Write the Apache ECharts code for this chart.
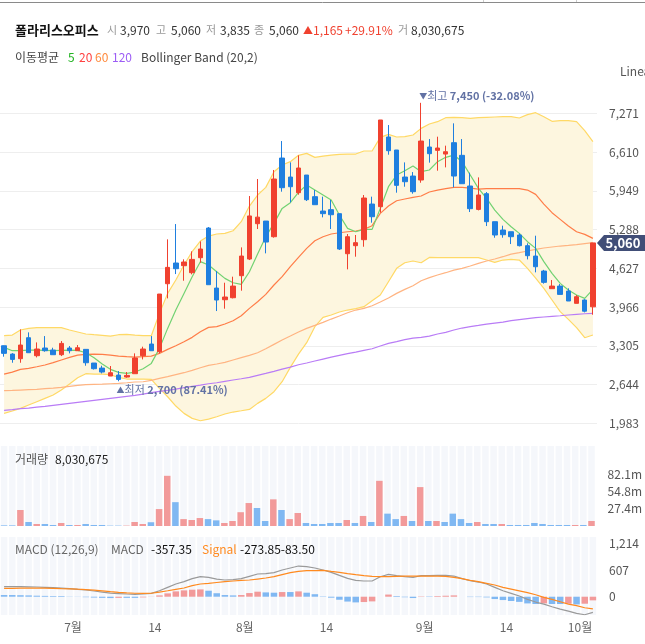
<!DOCTYPE html>
<html>
<head>
<meta charset="utf-8">
<script src="https://cdn.jsdelivr.net/npm/echarts@6/dist/echarts.min.js"></script>
<style>html,body{margin:0;height:100%;background:#fff}#main{width:645px;height:644px}</style>
</head>
<body>
<div id="main"></div>
<script>
// ---- data ----
var opens  = [3306,3164,3085,3443,3136,3267,3233,3153,3267,3221, 3244,3011,2925,2789,2806,2772,2829,3136,3335,3204, 4364,4717,4671,4552,4808,5314,4290,4091,4125,4501, 4785,5388,5433,5166,6508,6184,5917,6218,5849,5604, 5627,5559,4876,5013,5115,5723,5678,6867,6645,6184, 6201,6133,6696,6639,6576,6770,6554,6031,5632,5900, 5422,5280,5251,5195,5013,4836,4580,4279,4324,4239, 4029,4086,3970];
var highs  = [3310,3180,3585,3534,3363,3471,3272,3386,3301,3318, 3244,3011,2965,2960,2874,2857,3176,3290,3471,4188, 5121,5382,4780,4916,5086,5331,4580,4381,4484,4984, 5860,6150,5433,6304,6798,6434,6554,6218,5962,5849, 5792,5559,5212,5195,5877,5849,7157,7071,6645,6434, 6269,7450,6832,6872,6719,7100,6832,6258,6178,5928, 5422,5354,5251,5223,5053,5183,4600,4427,4358,4285, 4171,4100,5060];
var lows   = [3119,3016,3016,3187,3107,3204,3153,3130,3176,3221, 2965,2900,2834,2789,2700,2760,2829,3073,3221,3176, 4114,4529,4415,4524,4722,4347,3898,3938,4114,4245, 4768,5297,4882,5150,5934,5752,5883,5775,5712,5496, 5297,4939,4609,4825,4995,5405,5576,6565,5917,6019, 5900,6087,6429,6292,6349,6008,6070,5587,5615,5348, 5149,5149,5041,5000,4779,4558,4365,4279,4182,4069, 4029,3875,3835];
var closes = [3176,3073,3318,3187,3250,3221,3153,3346,3221,3272, 3016,2914,2857,2846,2732,2800,3096,3250,3221,4188, 4643,4620,4734,4779,4956,4347,4086,4137,4324,4836, 5520,5500,5075,6150,6002,6019,6338,5797,5712,5559, 5541,4956,5166,5064,5826,5507,7157,6633,6042,6104, 5934,6798,6582,6679,6616,6201,6070,5644,5877,5422, 5195,5200,5166,5013,4842,4654,4387,4324,4182,4069, 4142,3895,5060];
// volume, millions of shares
var volumes = [1.0,1.0,25.5,6.4,3.2,3.2,1.6,4.8,1.6,1.6, 3.2,1.6,1.6,0.6,0.6,0.6,6.4,3.2,6.0,27.0, 80.0,38.0,11.0,9.6,12.7,11.0,9.0,4.8,8.0,22.0, 36.6,28.7,8.0,42.5,25.5,11.0,20.7,4.8,3.2,3.2, 4.8,4.8,9.6,4.8,16.0,6.4,72.0,19.7,11.0,16.0, 8.0,62.0,8.0,8.0,6.4,19.7,11.0,4.8,6.4,3.2, 3.2,3.2,1.6,1.6,1.6,4.8,3.2,1.6,1.6,1.6, 1.6,1.6,8.03];
var ma5   = [3278,3221,3221,3232,3232,3227,3221,3227,3232,3227, 3187,3102,2994,2903,2851,2834,2857,2914,3005,3261, 3602,3915,4199,4484,4740,4683,4569,4455,4381,4353, 4569,4870,5166,5394,5649,5746,5922,6048,5962,5877, 5792,5536,5308,5251,5291,5291,5649,6019,6218,6292, 6372,6275,6304,6446,6520,6559,6446,6218,5991,5820, 5621,5462,5337,5223,5081,4967,4740,4541,4370,4256, 4171,4114,4268];
var ma20  = [2823,2857,2903,2920,2948,2977,3017,3062,3107,3147, 3159,3164,3159,3147,3130,3119,3113,3119,3130,3176, 3244,3306,3375,3449,3545,3619,3631,3676,3733,3818, 3943,4057,4182,4342,4484,4654,4814,4967,5098,5166, 5212,5234,5251,5263,5291,5354,5564,5689,5780,5809, 5837,5860,5928,5962,5985,6008,6008,5996,5979,5985, 5985,5985,5985,5985,5962,5888,5723,5576,5462,5348, 5251,5206,5138];
var ma60  = [2539,2544,2550,2556,2562,2573,2584,2596,2613,2630, 2641,2647,2652,2658,2664,2675,2687,2692,2715,2749, 2778,2812,2846,2886,2931,2971,2994,3022,3062,3102, 3142,3187,3255,3329,3403,3471,3540,3602,3653,3705, 3761,3813,3869,3915,3943,3989,4051,4120,4199,4268, 4330,4415,4467,4512,4552,4597,4626,4666,4711,4751, 4785,4825,4870,4893,4922,4950,4973,4990,5007,5018, 5030,5047,5064];
var ma120 = [2203,2215,2232,2243,2260,2271,2289,2306,2323,2340, 2357,2374,2391,2408,2425,2442,2459,2482,2505,2527, 2544,2567,2590,2613,2635,2658,2675,2698,2721,2743, 2766,2800,2834,2869,2908,2942,2982,3011,3045,3079, 3113,3142,3170,3198,3227,3255,3301,3346,3375,3409, 3437,3450,3471,3506,3534,3574,3608,3631,3653,3676, 3693,3710,3733,3750,3767,3784,3796,3807,3818,3830, 3841,3852,3858];
var bbUpper = [3477,3488,3574,3602,3614,3614,3614,3614,3574,3540, 3506,3494,3483,3471,3494,3500,3488,3477,3477,3858, 4199,4427,4683,4911,5092,5177,5212,5223,5268,5422, 5689,5877,6008,6275,6389,6446,6554,6588,6520,6542, 6559,6571,6576,6576,6628,6628,6861,6912,6867,6872, 6901,7014,7088,7128,7196,7202,7196,7185,7196,7202, 7208,7213,7213,7191,7248,7282,7213,7134,7145,7145, 7128,6975,6787];
var bbLower = [2152,2192,2237,2294,2351,2408,2465,2550,2653,2760, 2829,2823,2823,2812,2766,2738,2738,2738,2732,2579, 2436,2277,2152,2067,2027,2055,2095,2141,2175,2197, 2220,2323,2408,2522,2692,2937,3164,3358,3631,3790, 3830,3881,3915,3938,3972,4074,4171,4398,4626,4722, 4751,4722,4813,4808,4808,4808,4808,4808,4808,4768, 4728,4768,4779,4768,4626,4461,4285,4086,3887,3756, 3614,3443,3489];
var macdLine = [227,227,227,223,220,212,204,197,182,167, 152,129,106,83,72,61,53,61,76,136, 212,288,341,409,454,439,401,379,386,409, 462,515,522,545,606,651,696,681,651,606, 553,484,416,371,356,356,454,507,477,454, 439,477,477,484,484,469,409,363,333,288, 212,136,76,15,-61,-121,-167,-227,-280,-326, -379,-409,-357];
var signalLine = [189,189,193,193,197,193,189,182,178,170, 163,148,132,114,98,87,79,76,79,106, 136,167,197,250,288,303,322,341,356,371, 379,401,424,454,500,545,575,590,594,598, 575,553,526,500,477,462,454,458,462,466, 469,469,469,469,462,439,409,371,341,303, 265,212,174,132,91,45,-15,-61,-114,-167, -204,-250,-274];
var macdHist = [38,38,34,30,23,19,15,15,4,-3, -11,-19,-26,-31,-26,-26,-26,-15,-3,30, 76,121,144,159,166,136,79,38,30,38, 83,114,98,91,106,106,121,91,57,8, -22,-69,-110,-129,-121,-106,0,49,15,-12, -30,8,8,15,22,30,0,-8,-8,-15, -53,-76,-98,-117,-152,-166,-152,-166,-166,-159, -175,-159,-83];

var priceTicks = [1983,2644,3305,3966,4627,5288,5949,6610,7271];
var volTicks = [27.4,54.8,82.1];
var macdTicks = [0,607,1214];
var monthLabels = {8:'7월',18:'14',29:'8월',39:'14',51:'9월',61:'14',70:'10월'};
var days = opens.map(function (o, i) { return 'd' + i; });

// ---- styles ----
var RED = '#f0412f', BLUE = '#1f7fdf';
var VRED = '#f29a9a', VBLUE = '#80b8f2';
var FONT = '"Noto Sans CJK KR", "Noto Sans", sans-serif';
var fmt = function (v) { return Math.round(v).toLocaleString('en-US'); };

var chart = echarts.init(document.getElementById('main'));

var grids = [
  {left: 0, width: 597, top: 85, height: 355},
  {left: 0, width: 597, top: 446, height: 80},
  {left: 0, width: 597, top: 537, height: 78}
];

function lineSeries(data, color, extra) {
  var s = {type: 'line', xAxisIndex: 0, yAxisIndex: 0, data: data, symbol: 'none',
    silent: true, lineStyle: {width: 1.2, color: color}, z: 3};
  for (var k in extra) s[k] = extra[k];
  return s;
}

var option = {
  animation: false,
  grid: grids,
  xAxis: [0, 1, 2].map(function (g) {
    return {
      type: 'category', gridIndex: g, data: days, boundaryGap: true,
      axisLine: {show: false}, axisTick: {show: false},
      axisLabel: g < 2 ? {show: false} : {
        interval: 0, margin: 6, color: '#666', fontSize: 12, fontFamily: FONT,
        formatter: function (v, i) { return monthLabels[i] ? '{s|' + monthLabels[i] + '}' : ''; },
        rich: {s: {padding: [0, 0, 0, 7], color: '#666', fontSize: 12, fontFamily: FONT}}
      },
      splitLine: {show: false}
    };
  }),
  yAxis: [
    {gridIndex: 0, position: 'right', min: 1698, max: 7754, scale: true,
      axisLine: {show: false}, axisTick: {show: false, customValues: priceTicks},
      axisLabel: {customValues: priceTicks, formatter: fmt, color: '#555', fontSize: 12, fontFamily: FONT, margin: 12},
      splitLine: {show: true, lineStyle: {color: '#eeeeee'}}},
    {gridIndex: 1, position: 'right', min: 0, max: 127.5,
      axisLine: {show: false}, axisTick: {show: false, customValues: volTicks},
      axisLabel: {customValues: volTicks, formatter: function (v) { return v.toFixed(1) + 'm'; },
        color: '#555', fontSize: 12, fontFamily: FONT, margin: 12},
      splitLine: {show: false}},
    {gridIndex: 2, position: 'right', min: -415, max: 1355,
      axisLine: {show: false}, axisTick: {show: false, customValues: macdTicks},
      axisLabel: {customValues: macdTicks, formatter: fmt, color: '#555', fontSize: 12, fontFamily: FONT, margin: 12},
      splitLine: {show: false}}
  ],
  series: [
    // bollinger band fill
    lineSeries(bbLower, '#ffd966', {stack: 'bb', z: 1}),
    lineSeries(bbUpper.map(function (u, i) { return u - bbLower[i]; }), 'transparent',
      {stack: 'bb', z: 1, lineStyle: {width: 0}, areaStyle: {color: '#fdf6df', opacity: 1}}),
    lineSeries(bbUpper, '#ffd966', {z: 2}),
    lineSeries(ma120, '#b97cf6'),
    lineSeries(ma60, '#ffb482'),
    lineSeries(ma20, '#ff7d48'),
    lineSeries(ma5, '#72d272'),
    {
      type: 'candlestick', xAxisIndex: 0, yAxisIndex: 0, barWidth: 5, z: 5,
      data: opens.map(function (o, i) { return [o, closes[i], lows[i], highs[i]]; }),
      itemStyle: {color: RED, color0: BLUE, borderColor: RED, borderColor0: BLUE, borderWidth: 1}
    },
    {
      type: 'bar', xAxisIndex: 1, yAxisIndex: 1, barWidth: 6.5, silent: true,
      showBackground: true, backgroundStyle: {color: '#f5f7fb'},
      data: volumes.map(function (v, i) {
        var prev = i > 0 ? closes[i - 1] : opens[0];
        return {value: v, itemStyle: {color: closes[i] > prev ? VRED : VBLUE}};
      })
    },
    {
      type: 'bar', xAxisIndex: 2, yAxisIndex: 2, barWidth: 6.5, silent: true,
      showBackground: true, backgroundStyle: {color: '#f5f7fb'},
      data: macdHist.map(function (v, i) {
        var up = i > 0 ? v > macdHist[i - 1] : false;
        return {value: v, itemStyle: {color: up ? VRED : VBLUE}};
      })
    },
    {type: 'line', xAxisIndex: 2, yAxisIndex: 2, data: macdLine, symbol: 'none', silent: true,
      lineStyle: {width: 1.2, color: '#9a9a9a'}},
    {type: 'line', xAxisIndex: 2, yAxisIndex: 2, data: signalLine, symbol: 'none', silent: true,
      lineStyle: {width: 1.2, color: '#ff8a1f'}}
  ]
};
chart.setOption(option);

// ---- text and annotations ----
function txt(x, y, text, fill, size, weight) {
  return {type: 'text', x: x, y: y, silent: true, z: 100,
    style: {text: text, fill: fill, font: (weight || 'normal') + ' ' + (size || 12) + 'px ' + FONT, verticalAlign: 'middle'}};
}
var G = '#999', D = '#333';
var graphics = [
  {type: 'line', shape: {x1: 0, y1: 2.5, x2: 645, y2: 2.5}, style: {stroke: '#8a8a8a', lineWidth: 1}, silent: true},
  {type: 'line', shape: {x1: 483.5, y1: 0, x2: 483.5, y2: 2}, style: {stroke: '#ccc', lineWidth: 1}, silent: true},
  {type: 'line', shape: {x1: 576.5, y1: 0, x2: 576.5, y2: 2}, style: {stroke: '#ccc', lineWidth: 1}, silent: true},
  txt(15, 30, '폴라리스오피스', '#111', 13, 'bold'),
  txt(107, 30, '시', G, 11), txt(120, 30, '3,970', D),
  txt(156, 30, '고', G, 11), txt(171, 30, '5,060', D),
  txt(206, 30, '저', G, 11), txt(220, 30, '3,835', D),
  txt(254, 30, '종', G, 11), txt(269, 30, '5,060', D),
  txt(303, 30, '▲', RED, 10), txt(313, 30, '1,165', RED), txt(345, 30, '+29.91%', RED),
  txt(398, 30, '거', G, 11), txt(411, 30, '8,030,675', D),
  txt(15, 57, '이동평균', '#444'),
  txt(68, 57, '5', '#22b322'), txt(79, 57, '20', '#ff4040'), txt(95, 57, '60', '#ff8a3d'), txt(112, 57, '120', '#9c5cf5'),
  txt(141, 57, 'Bollinger Band (20,2)', '#444'),
  txt(620, 71, 'Linear', '#555'),
  txt(15, 459, '거래량', '#555'), txt(55, 459, '8,030,675', '#222'),
  txt(15, 549, 'MACD (12,26,9)', '#666'), txt(111, 549, 'MACD', '#666'), txt(151, 549, '-357.35', '#111'),
  txt(202, 549, 'Signal', '#ff8a1f'), txt(240, 549, '-273.85-83.50', '#111')
];

var hiIdx = highs.indexOf(Math.max.apply(null, highs));
var loIdx = lows.indexOf(Math.min.apply(null, lows));
var hiPt = chart.convertToPixel({xAxisIndex: 0, yAxisIndex: 0}, [hiIdx, highs[hiIdx]]);
var loPt = chart.convertToPixel({xAxisIndex: 0, yAxisIndex: 0}, [loIdx, lows[loIdx]]);
var ANN = '#6272a4';
function annot(x, y, arrow, word, value) {
  return {type: 'text', x: x, y: y, silent: true, z: 100,
    style: {text: '{a|' + arrow + '}{b|' + word + ' }{c|' + value + '}', verticalAlign: 'middle',
      rich: {a: {fill: ANN, fontSize: 8, fontFamily: FONT},
             b: {fill: ANN, fontSize: 11, fontFamily: FONT},
             c: {fill: ANN, fontSize: 11, fontWeight: 'bold', fontFamily: FONT}}}};
}
graphics.push(annot(hiPt[0] - 2, hiPt[1] - 7, '▼', '최고', '7,450 (-32.08%)'));
graphics.push(annot(loPt[0] - 2, loPt[1] + 9, '▲', '최저', '2,700 (87.41%)'));

var lastPt = chart.convertToPixel({xAxisIndex: 0, yAxisIndex: 0}, [closes.length - 1, closes[closes.length - 1]]);
var ty = lastPt[1];
graphics.push({type: 'polygon', silent: true, z: 100,
  shape: {points: [[597, ty], [604, ty - 8], [645, ty - 8], [645, ty + 8], [604, ty + 8]]},
  style: {fill: '#414e77'}});
graphics.push({type: 'text', x: 623, y: ty, silent: true, z: 101,
  style: {text: fmt(closes[closes.length - 1]), fill: '#fff', font: 'bold 13px ' + FONT, align: 'center', verticalAlign: 'middle'}});

chart.setOption({graphic: graphics});
</script>
</body>
</html>
